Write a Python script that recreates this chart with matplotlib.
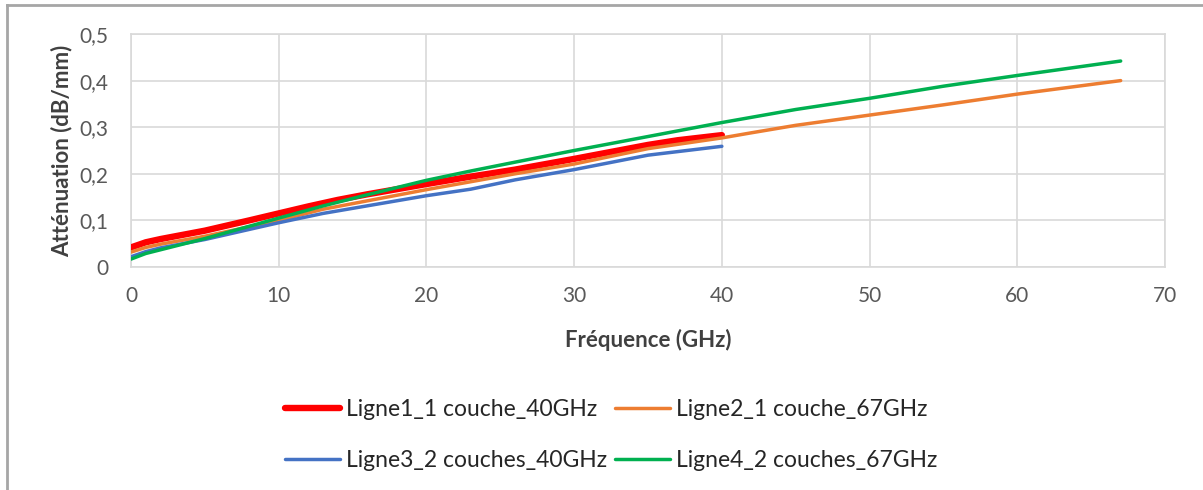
import matplotlib
matplotlib.use('Agg')
import matplotlib.pyplot as plt
from matplotlib.lines import Line2D

# === Data ===
freq_l1 = [0, 1, 2, 5, 8, 10, 12, 14, 16, 18, 20, 23, 26, 30, 35, 37, 40]
att_l1 = [0.042, 0.053, 0.060, 0.078, 0.100, 0.115, 0.130, 0.144, 0.156, 0.167, 0.178, 0.194, 0.209, 0.232, 0.262, 0.272, 0.283]

freq_l2 = [0, 1, 2, 5, 10, 13, 20, 26, 30, 35, 40, 42, 45, 50, 55, 60, 67]
att_l2 = [0.032, 0.042, 0.049, 0.066, 0.100, 0.124, 0.166, 0.200, 0.221, 0.254, 0.277, 0.288, 0.304, 0.326, 0.348, 0.371, 0.400]

freq_l3 = [0, 1, 2, 5, 10, 13, 20, 23, 26, 30, 35, 40]
att_l3 = [0.022, 0.033, 0.041, 0.059, 0.095, 0.115, 0.153, 0.167, 0.187, 0.209, 0.240, 0.259]

freq_l4 = [0, 1, 2, 5, 10, 13, 16, 20, 23, 26, 30, 35, 40, 45, 50, 55, 60, 67]
att_l4 = [0.017, 0.029, 0.037, 0.061, 0.105, 0.131, 0.155, 0.186, 0.206, 0.225, 0.250, 0.280, 0.310, 0.338, 0.362, 0.388, 0.411, 0.442]

labels = ['Ligne1_1 couche_40GHz', 'Ligne2_1 couche_67GHz',
          'Ligne3_2 couches_40GHz', 'Ligne4_2 couches_67GHz']
colors = ['#FF0000', '#ED7D31', '#4472C4', '#00B050']
x_ticks = [0, 10, 20, 30, 40, 50, 60, 70]
y_ticks = [0, 0.1, 0.2, 0.3, 0.4, 0.5]
y_tick_labels = ['0', '0,1', '0,2', '0,3', '0,4', '0,5']

plt.rcParams['font.family'] = ['Lato', 'DejaVu Sans']

fig = plt.figure(figsize=(12.03, 4.90), dpi=100)
ax = fig.add_axes([0.1089, 0.4551, 0.8595, 0.4755])

widths = [4.6, 2.5, 2.5, 2.5]
series = [(freq_l1, att_l1), (freq_l2, att_l2), (freq_l3, att_l3), (freq_l4, att_l4)]
for (f, a), lw, c, lab in zip(series, widths, colors, labels):
    ax.plot(f, a, color=c, lw=lw, label=lab, solid_capstyle='round',
            solid_joinstyle='round', zorder=3)

ax.set_xlim(0, 70)
ax.set_ylim(0, 0.5)
ax.set_xticks(x_ticks)
ax.set_yticks(y_ticks)
ax.set_yticklabels(y_tick_labels)
ax.tick_params(length=0, labelsize=15, labelcolor='#595959')
ax.tick_params(axis='y', pad=16)
ax.tick_params(axis='x', pad=14)
ax.grid(True, color='#D9D9D9', lw=1.2)
for s in ax.spines.values():
    s.set_color('#D9D9D9')
    s.set_linewidth(1.2)

ax.set_xlabel('Fréquence (GHz)', fontsize=16, fontweight='bold', color='#404040', labelpad=16)
ax.set_ylabel('Atténuation (dB/mm)', fontsize=16, fontweight='bold', color='#404040', labelpad=5)

# legend filled row by row like Excel
order = [0, 2, 1, 3]
leg_handles = [Line2D([], [], color=colors[i], lw=widths[i], solid_capstyle='round') for i in order]
fig.legend(leg_handles, [labels[i] for i in order], ncol=2, loc='center',
           bbox_to_anchor=(0.508, 0.112), frameon=False, fontsize=16.5,
           handlelength=2.4, handletextpad=0.25, columnspacing=0.35,
           labelspacing=1.32, borderpad=0, borderaxespad=0, labelcolor='#262626')

# outer chart border (only left and top edges are in view)
fig.add_artist(Line2D([0.0058, 0.0058], [0, 0.99], transform=fig.transFigure, color='#A6A6A6', lw=2))
fig.add_artist(Line2D([0.0058, 1.0], [0.99, 0.99], transform=fig.transFigure, color='#A6A6A6', lw=2))

fig.savefig('out.png', dpi=100, facecolor='white')
